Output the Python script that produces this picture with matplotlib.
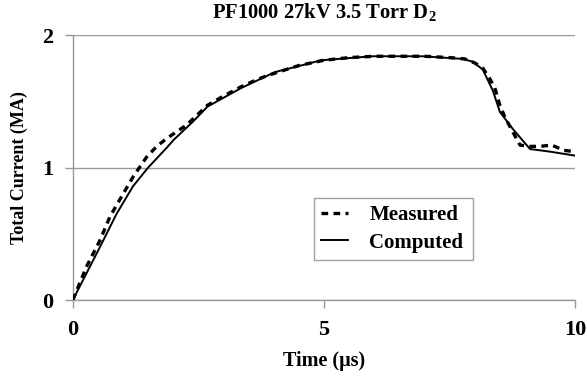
import matplotlib
matplotlib.use("Agg")
import matplotlib.pyplot as plt

plt.rcParams['font.family'] = ['Liberation Serif', 'DejaVu Serif']
plt.rcParams['mathtext.fontset'] = 'custom'
plt.rcParams['mathtext.rm'] = 'Liberation Serif:bold'
plt.rcParams['mathtext.bf'] = 'Liberation Serif:bold'

title = "PF1000 27kV 3.5 Torr D$_2$"
xlabel = "Time (\u03bcs)"
ylabel = "Total Current (MA)"
xticks = [0, 5, 10]
yticks = [0, 1, 2]

t_measured = [0, 0.27, 0.54, 0.74, 1.0, 1.2, 1.47, 1.67, 1.87, 2.26, 2.68, 3.0, 3.35,
              3.7, 4.0, 4.5, 5.0, 5.5, 6.0, 6.5, 7.0, 7.5, 7.8, 8.0, 8.16, 8.3, 8.4,
              8.5, 8.6, 8.77, 8.9, 9.1, 9.3, 9.53, 9.77, 10.0]
i_measured = [0, 0.25, 0.45, 0.63, 0.80, 0.93, 1.08, 1.16, 1.22, 1.32, 1.47, 1.54, 1.61,
              1.67, 1.71, 1.77, 1.81, 1.83, 1.84, 1.84, 1.84, 1.83, 1.82, 1.79, 1.75, 1.67, 1.60,
              1.47, 1.38, 1.26, 1.17, 1.16, 1.16, 1.17, 1.13, 1.12]

t_computed = [0, 0.54, 0.87, 1.2, 1.5, 1.87, 2.01, 2.4, 2.68, 3.35, 4.02, 4.95, 5.96,
              6.96, 7.76, 7.95, 8.16, 8.36, 8.50, 8.76, 9.1, 9.5, 10.0]
i_computed = [0, 0.40, 0.65, 0.86, 1.0, 1.15, 1.21, 1.35, 1.46, 1.60, 1.72, 1.81, 1.84,
              1.84, 1.82, 1.80, 1.74, 1.58, 1.42, 1.29, 1.14, 1.12, 1.09]

fig = plt.figure(figsize=(5.87, 3.77), dpi=100)
ax = fig.add_axes([0.124, 0.204, 0.856, 0.703])

ax.plot(t_measured, i_measured, color='black', lw=2.4, linestyle=(0, (2.0, 1.6)),
        label='Measured', zorder=3)
ax.plot(t_computed, i_computed, color='black', lw=1.4, label='Computed', zorder=4)

ax.set_xlim(0, 10)
ax.set_ylim(0, 2)
ax.set_xticks(xticks)
ax.set_yticks(yticks)
ax.set_xticklabels([str(v) for v in xticks], fontsize=16, fontweight='bold')
ax.set_yticklabels([str(v) for v in yticks], fontsize=16, fontweight='bold')
ax.tick_params(axis='both', colors='#999999', labelcolor='black', length=6, width=1)
ax.tick_params(axis='x', pad=8)
ax.tick_params(axis='y', pad=8)

for s in ['top', 'right']:
    ax.spines[s].set_visible(False)
for s in ['left', 'bottom']:
    ax.spines[s].set_color('#999999')
    ax.spines[s].set_linewidth(1)

ax.yaxis.grid(True, color='#999999', lw=1)
ax.set_axisbelow(True)

ax.set_title(title, fontsize=14.8, fontweight='bold', pad=12)
ax.set_xlabel(xlabel, fontsize=14.5, fontweight='bold', labelpad=8)
ax.set_ylabel(ylabel, fontsize=13, fontweight='bold', labelpad=10)

leg = ax.legend(loc='lower left', bbox_to_anchor=(0.48, 0.151, 0.317, 0.245), mode='expand',
                prop={'weight': 'bold', 'size': 15}, frameon=True, fancybox=False,
                handlelength=1.3, handletextpad=1.0, borderpad=0.35, labelspacing=0.35,
                borderaxespad=0)
leg.get_frame().set_edgecolor('#888888')
leg.get_frame().set_linewidth(1)

fig.savefig('out.png', dpi=100)
